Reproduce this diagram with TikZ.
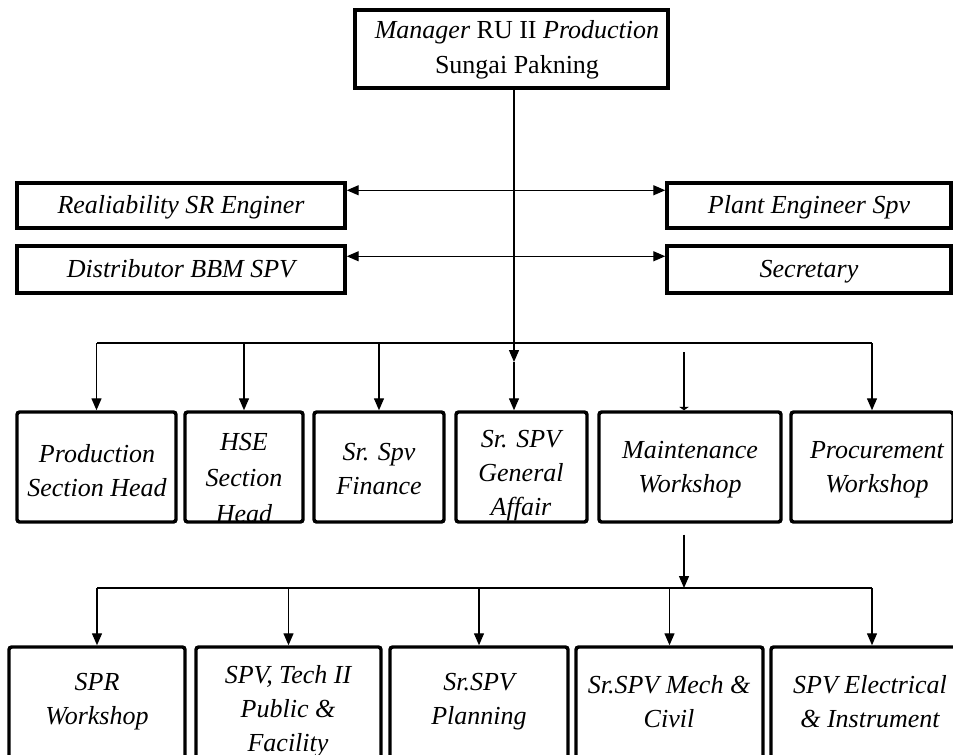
\documentclass[tikz,border=0pt]{standalone}
\usepackage{fontspec}
\setmainfont{Liberation Serif}
\usetikzlibrary{arrows.meta,fit}

\tikzset{
  box/.style={draw, line width=2.6pt, inner sep=0pt},
  rbox/.style={box, rounded corners=2pt},
  lbl/.style={align=center, inner sep=0pt, font=\fontsize{19.5}{25.5}\selectfont\itshape},
  link/.style={line width=1pt},
  arr/.style={link, -{Triangle[length=9pt,width=7.5pt]}},
  darr/.style={link, {Triangle[length=9pt,width=7.5pt]}-{Triangle[length=9pt,width=7.5pt]}},
}

\begin{document}
\begin{tikzpicture}[x=0.75pt,y=0.75pt,yscale=-1,xscale=1]
\useasboundingbox (0,0) rectangle (953,754);

% top
\node[box, fit={(355,10) (668,88)}] (mgr) {};
\node[align=center, inner sep=0pt, font=\fontsize{19.5}{26}\selectfont] (t-mgr) at (517,50)
  {\textit{Manager} RU II \textit{Production}\\Sungai Pakning};

% staff boxes
\node[box, fit={(17,183) (345,228)}] (rel) {};
\node[box, fit={(17,246) (345,293)}] (dist) {};
\node[box, fit={(667,183) (951,228)}] (plant) {};
\node[box, fit={(667,246) (951,293)}] (sec) {};
\node[lbl, anchor=base] (t-rel) at (181,213) {Realiability SR Enginer};
\node[lbl, anchor=base] (t-dist) at (181,277) {Distributor BBM SPV};
\node[lbl, anchor=base] (t-plant) at (809,213) {Plant Engineer Spv};
\node[lbl, anchor=base] (t-sec) at (809,277) {Secretary};

\draw[darr] ([yshift=6.75pt]rel.north east) -- ([yshift=6.75pt]plant.north west);
\draw[darr] ([yshift=9pt]dist.north east) -- ([yshift=9pt]sec.north west);

% second row
\node[rbox, fit={(17,412) (176,522)}] (prod) {};
\node[rbox, fit={(185,412) (303,522)}] (hse) {};
\node[rbox, fit={(314,412) (444,522)}] (fin) {};
\node[rbox, fit={(456,412) (587,522)}] (ga) {};
\node[rbox, fit={(599,412) (781,522)}] (mw) {};
\node[rbox, fit={(791,412) (953,522)}] (proc) {};

\node[lbl] (t-prod) at (97,471) {Production\\Section Head};
\begin{scope}
  \clip (185,412) rectangle (303,520);
  \node[lbl, font=\fontsize{19.5}{27}\selectfont\itshape] (t-hse) at (244,478) {HSE\\Section\\Head};
\end{scope}
\node[lbl] (t-fin) at (379,469) {Sr. Spv\\Finance};
\begin{scope}
  \clip (456,412) rectangle (587,520);
  \node[lbl] (t-ga) at (521,476) {Sr. SPV\\General\\Affair};
\end{scope}
\node[lbl] (t-mw) at (690,470) {Maintenance\\Workshop};
\node[lbl] (t-proc) at (877,470) {Procurement\\Workshop};

\coordinate (b1w) at (97,343);
\coordinate (b1e) at (872,343);
\coordinate (mid) at (514,362);
\coordinate (mwtop) at (684,352);

\draw[link] (b1w) -- (b1e);
\draw[arr] (mgr.south -| mid) -- (mid);
\draw[arr] (mid) -- (mid |- ga.north);
\foreach \n in {prod,hse,fin,proc}
  \draw[arr] (\n.north |- b1w) -- (\n.north);
\draw[link, -{Triangle[length=2.5pt,width=7pt]}] (mwtop) -- (mwtop |- mw.north);

% third row
\node[rbox, fit={(9,647) (185,790)}] (spr) {};
\node[rbox, fit={(196,647) (381,790)}] (tech) {};
\node[rbox, fit={(390,647) (568,790)}] (plan) {};
\node[rbox, fit={(576,647) (763,790)}] (mech) {};
\node[rbox, fit={(771,647) (973,790)}] (elec) {};

\node[lbl] (t-spr) at (97,702) {SPR\\Workshop};
\node[lbl] (t-tech) at (288,711) {SPV, Tech II\\Public \&\\Facility};
\node[lbl] (t-plan) at (479,702) {Sr.SPV\\Planning};
\node[lbl] (t-mech) at (669,702) {Sr.SPV Mech \&\\Civil};
\node[lbl] (t-elec) at (870,702) {SPV Electrical\\\& Instrument};

\coordinate (b2w) at (97,588);
\coordinate (b2e) at (872,588);
\coordinate (b2m) at (684,588);

\draw[arr] ([xshift=-4.5pt,yshift=8.25pt]mw.south) -- (b2m);
\draw[link] (b2w) -- (b2e);
\foreach \n in {spr,tech,plan,mech,elec}
  \draw[arr] (\n.north |- b2w) -- (\n.north);

\end{tikzpicture}
\end{document}
